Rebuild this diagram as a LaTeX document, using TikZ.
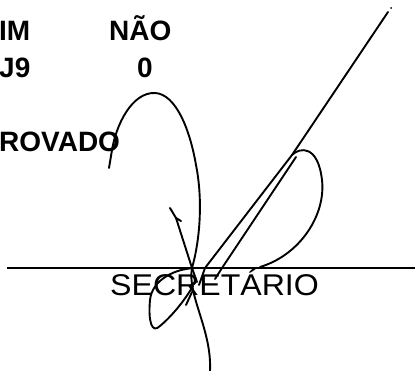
\documentclass[tikz,border=0pt]{standalone}
\usepackage{fontspec}
\usepackage{graphicx}
\setmainfont{Liberation Sans}
\begin{document}
\begin{tikzpicture}[x=1pt,y=-1pt,
  boldtxt/.style={font=\fontsize{28}{28}\selectfont\bfseries,inner sep=0pt,anchor=base west},
  regtxt/.style={font=\fontsize{30}{30}\selectfont,inner sep=0pt,anchor=base west},
  pen/.style={line width=1.9pt,line cap=round,line join=round}]
\useasboundingbox (0,0) rectangle (415,371);
\clip (0,0) rectangle (415,371);
% texts
\node[boldtxt] (sim) at (-1,41) {IM};
\node[boldtxt] (simv) at (-1,78) {J9};
\node[boldtxt] (nao) at (109,41) {NÃO};
\node[boldtxt] (naov) at (137,78) {0};
\node[boldtxt] (apr) at (-1,152) {ROVADO};
\node[regtxt] (sec) at (110,296) {\scalebox{1.07}[1]{SECRETÁRIO}};
% signature line
\coordinate (l0) at (7,268);
\coordinate (l1) at (80,268);
\coordinate (la) at (76,268);
\coordinate (lb) at (415,268);
\draw[line width=1.6pt] (l0) -- (l1);
\draw[line width=2.6pt] (la) -- (lb);
% signature strokes
\coordinate (top) at (292,155);
\coordinate (tip) at (388,12);
\draw[pen] (top) -- (tip);
\fill (391,8) circle (1pt);
\draw[pen] (top) -- (205,268) -- (199,285);
\draw[pen] (296,157) -- (222,268) -- (215,279);
\draw[pen] (top) .. controls (300,147) and (318,145) .. (322,180)
  .. controls (326,215) and (300,255) .. (260,267);
\draw[pen] (109,168) -- (112,150) .. controls (116,125) and (132,92) .. (155,93)
  .. controls (176,94) and (190,130) .. (196,165)
  .. controls (203,200) and (200,240) .. (192,268)
  .. controls (187,295) and (212,330) .. (210,371);
\draw[pen] (170,208) -- (176,218) -- (181,221);
\draw[pen] (176,218) -- (192,268) -- (197,282);
\draw[pen] (197,268) .. controls (175,268) and (152,280) .. (150,300)
  .. controls (148,322) and (152,334) .. (160,326)
  .. controls (172,316) and (185,300) .. (193,286);
\draw[pen] (192,292) -- (186,305);
\end{tikzpicture}
\end{document}
